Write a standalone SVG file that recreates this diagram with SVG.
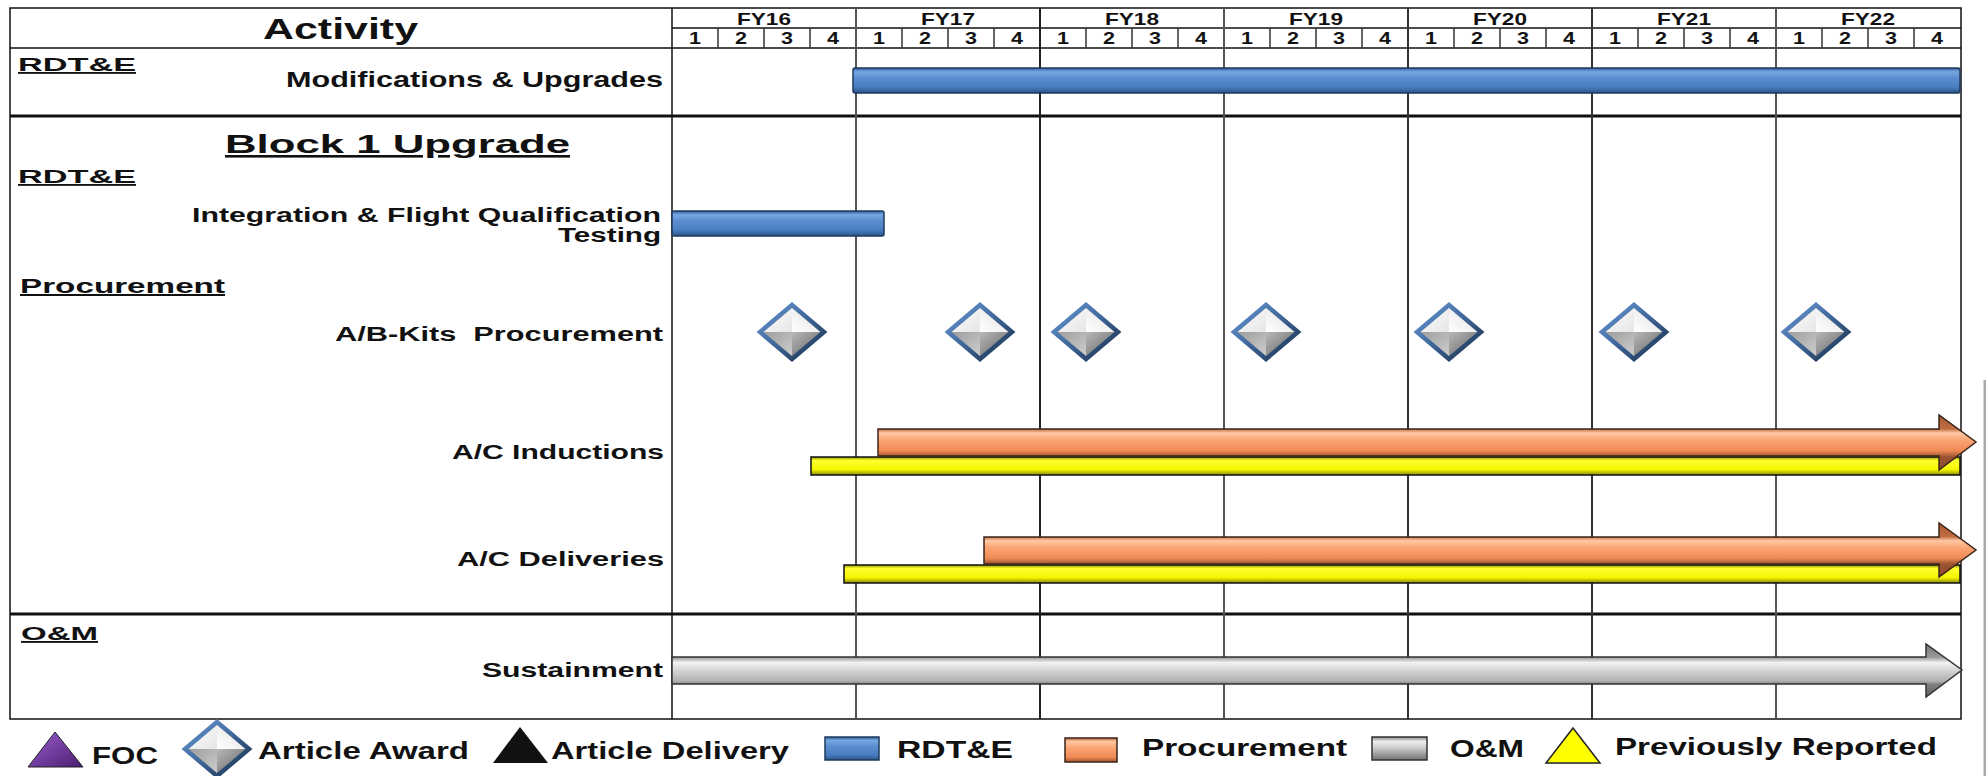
<svg xmlns="http://www.w3.org/2000/svg" xmlns:xlink="http://www.w3.org/1999/xlink" width="1986" height="776" viewBox="0 0 1986 776">
<style>
text{font-family:"Liberation Sans",Arial,sans-serif;font-weight:bold;fill:#111;white-space:pre}
.hd{text-decoration:underline}
.fy{font-size:16.5px}
.q{font-size:16.5px}
.lbl{font-size:20px}
.lg{font-size:23px}
.grid{stroke:#111;stroke-width:1.5;fill:none}
.yr{stroke:#555;stroke-width:2}
.qt{stroke:#333;stroke-width:1.5}
.thick{stroke:#111;stroke-width:3}
.blue{fill:url(#blueG);stroke:#1e3a5c;stroke-width:1.5}
.orange{fill:url(#orangeG);stroke:#3a2418;stroke-width:1.5}
.orangeA{fill:url(#orangeA);stroke:#3a2418;stroke-width:1.5}
.yellow{fill:url(#yellowG);stroke:#111;stroke-width:1.5}
.grayA{fill:url(#grayA);stroke:#333;stroke-width:1.5}
.gray{fill:url(#grayG);stroke:#333;stroke-width:1.5}
</style>
<defs>
<linearGradient id="blueG" x1="0" y1="0" x2="0" y2="1">
<stop offset="0" stop-color="#2f5d96"/><stop offset="0.15" stop-color="#77a6e2"/><stop offset="0.4" stop-color="#5b8ed0"/><stop offset="0.75" stop-color="#4a7fc2"/><stop offset="1" stop-color="#2c5488"/>
</linearGradient>
<linearGradient id="orangeG" x1="0" y1="0" x2="0" y2="1">
<stop offset="0" stop-color="#b8653c"/><stop offset="0.15" stop-color="#ffc9a3"/><stop offset="0.4" stop-color="#fba574"/><stop offset="0.8" stop-color="#f08a55"/><stop offset="1" stop-color="#9c5432"/>
</linearGradient>
<linearGradient id="orangeA" x1="0" y1="0" x2="0" y2="1">
<stop offset="0" stop-color="#a85a34"/><stop offset="0.25" stop-color="#c06c42"/><stop offset="0.33" stop-color="#ffc9a3"/><stop offset="0.45" stop-color="#fba574"/><stop offset="0.65" stop-color="#f08a55"/><stop offset="0.76" stop-color="#9c5432"/><stop offset="1" stop-color="#8a4a2c"/>
</linearGradient>
<linearGradient id="yellowG" x1="0" y1="0" x2="0" y2="1">
<stop offset="0" stop-color="#9a9a00"/><stop offset="0.2" stop-color="#ffff30"/><stop offset="0.7" stop-color="#f5f500"/><stop offset="1" stop-color="#8a8a00"/>
</linearGradient>
<linearGradient id="grayA" x1="0" y1="0" x2="0" y2="1">
<stop offset="0" stop-color="#777"/><stop offset="0.25" stop-color="#999"/><stop offset="0.35" stop-color="#f2f2f2"/><stop offset="0.5" stop-color="#d4d4d4"/><stop offset="0.7" stop-color="#b0b0b0"/><stop offset="0.76" stop-color="#808080"/><stop offset="1" stop-color="#606060"/>
</linearGradient>
<linearGradient id="grayG" x1="0" y1="0" x2="0" y2="1">
<stop offset="0" stop-color="#888"/><stop offset="0.2" stop-color="#eee"/><stop offset="0.5" stop-color="#c8c8c8"/><stop offset="1" stop-color="#707070"/>
</linearGradient>
<linearGradient id="dBorder" x1="0" y1="0" x2="1" y2="1">
<stop offset="0" stop-color="#6a9ad8"/><stop offset="0.5" stop-color="#3d6597"/><stop offset="1" stop-color="#1a2f4a"/>
</linearGradient>
<linearGradient id="fTL" x1="0" y1="0" x2="1" y2="1"><stop offset="0" stop-color="#ffffff"/><stop offset="1" stop-color="#e6e6e6"/></linearGradient>
<linearGradient id="fTR" x1="1" y1="0" x2="0" y2="1"><stop offset="0" stop-color="#dcdcdc"/><stop offset="1" stop-color="#ffffff"/></linearGradient>
<linearGradient id="fBL" x1="0" y1="0" x2="1" y2="1"><stop offset="0" stop-color="#9a9a9a"/><stop offset="1" stop-color="#d0d0d0"/></linearGradient>
<linearGradient id="fBR" x1="1" y1="1" x2="0" y2="0"><stop offset="0" stop-color="#5a5a5a"/><stop offset="1" stop-color="#b8b8b8"/></linearGradient>
<linearGradient id="purpleG" x1="0" y1="0" x2="1" y2="1"><stop offset="0" stop-color="#9a5fd0"/><stop offset="1" stop-color="#4b1d70"/></linearGradient>
<g id="diamond">
<polygon points="0,-27 -32,0 0,0" fill="url(#fTL)"/>
<polygon points="0,-27 32,0 0,0" fill="url(#fTR)"/>
<polygon points="-32,0 0,27 0,0" fill="url(#fBL)"/>
<polygon points="32,0 0,27 0,0" fill="url(#fBR)"/>
<polygon points="0,-27 32,0 0,27 -32,0" fill="none" stroke="url(#dBorder)" stroke-width="4.5" stroke-linejoin="miter"/>
</g>
</defs>
<rect width="1986" height="776" fill="#fff"/>
<line x1="1985" y1="380" x2="1985" y2="776" stroke="#aaa" stroke-width="3"/>

<g id="grid">
<rect x="10" y="8" width="1951" height="711" class="grid"/>
<line x1="10" y1="48" x2="1961" y2="48" class="grid"/>
<line x1="672" y1="28" x2="1961" y2="28" class="grid"/>
<line x1="672" y1="8" x2="672" y2="719" class="grid"/>
<line x1="10" y1="116" x2="1961" y2="116" class="thick"/>
<line x1="10" y1="614" x2="1961" y2="614" class="thick"/>
<g class="yr">
<line x1="856" y1="8" x2="856" y2="719"/>
<line x1="1040" y1="8" x2="1040" y2="719" stroke="#222"/>
<line x1="1224" y1="8" x2="1224" y2="719"/>
<line x1="1408" y1="8" x2="1408" y2="719" stroke="#333"/>
<line x1="1592" y1="8" x2="1592" y2="719" stroke="#333"/>
<line x1="1776" y1="8" x2="1776" y2="719"/>
</g>
<g class="qt">
<line x1="718" y1="28" x2="718" y2="48"/><line x1="764" y1="28" x2="764" y2="48"/><line x1="810" y1="28" x2="810" y2="48"/>
<line x1="902" y1="28" x2="902" y2="48"/><line x1="948" y1="28" x2="948" y2="48"/><line x1="994" y1="28" x2="994" y2="48"/>
<line x1="1086" y1="28" x2="1086" y2="48"/><line x1="1132" y1="28" x2="1132" y2="48"/><line x1="1178" y1="28" x2="1178" y2="48"/>
<line x1="1270" y1="28" x2="1270" y2="48"/><line x1="1316" y1="28" x2="1316" y2="48"/><line x1="1362" y1="28" x2="1362" y2="48"/>
<line x1="1454" y1="28" x2="1454" y2="48"/><line x1="1500" y1="28" x2="1500" y2="48"/><line x1="1546" y1="28" x2="1546" y2="48"/>
<line x1="1638" y1="28" x2="1638" y2="48"/><line x1="1684" y1="28" x2="1684" y2="48"/><line x1="1730" y1="28" x2="1730" y2="48"/>
<line x1="1822" y1="28" x2="1822" y2="48"/><line x1="1868" y1="28" x2="1868" y2="48"/><line x1="1914" y1="28" x2="1914" y2="48"/>
</g>
</g>

<g id="header">
<text x="263" y="39" font-size="29" textLength="155" lengthAdjust="spacingAndGlyphs">Activity</text>
<g class="fy">
<text x="737" y="25" textLength="54" lengthAdjust="spacingAndGlyphs">FY16</text>
<text x="921" y="25" textLength="54" lengthAdjust="spacingAndGlyphs">FY17</text>
<text x="1105" y="25" textLength="54" lengthAdjust="spacingAndGlyphs">FY18</text>
<text x="1289" y="25" textLength="54" lengthAdjust="spacingAndGlyphs">FY19</text>
<text x="1473" y="25" textLength="54" lengthAdjust="spacingAndGlyphs">FY20</text>
<text x="1657" y="25" textLength="54" lengthAdjust="spacingAndGlyphs">FY21</text>
<text x="1841" y="25" textLength="54" lengthAdjust="spacingAndGlyphs">FY22</text>
</g>
<g class="q">
<text x="689" y="44" textLength="12" lengthAdjust="spacingAndGlyphs">1</text><text x="735" y="44" textLength="12" lengthAdjust="spacingAndGlyphs">2</text><text x="781" y="44" textLength="12" lengthAdjust="spacingAndGlyphs">3</text><text x="827" y="44" textLength="12" lengthAdjust="spacingAndGlyphs">4</text>
<text x="873" y="44" textLength="12" lengthAdjust="spacingAndGlyphs">1</text><text x="919" y="44" textLength="12" lengthAdjust="spacingAndGlyphs">2</text><text x="965" y="44" textLength="12" lengthAdjust="spacingAndGlyphs">3</text><text x="1011" y="44" textLength="12" lengthAdjust="spacingAndGlyphs">4</text>
<text x="1057" y="44" textLength="12" lengthAdjust="spacingAndGlyphs">1</text><text x="1103" y="44" textLength="12" lengthAdjust="spacingAndGlyphs">2</text><text x="1149" y="44" textLength="12" lengthAdjust="spacingAndGlyphs">3</text><text x="1195" y="44" textLength="12" lengthAdjust="spacingAndGlyphs">4</text>
<text x="1241" y="44" textLength="12" lengthAdjust="spacingAndGlyphs">1</text><text x="1287" y="44" textLength="12" lengthAdjust="spacingAndGlyphs">2</text><text x="1333" y="44" textLength="12" lengthAdjust="spacingAndGlyphs">3</text><text x="1379" y="44" textLength="12" lengthAdjust="spacingAndGlyphs">4</text>
<text x="1425" y="44" textLength="12" lengthAdjust="spacingAndGlyphs">1</text><text x="1471" y="44" textLength="12" lengthAdjust="spacingAndGlyphs">2</text><text x="1517" y="44" textLength="12" lengthAdjust="spacingAndGlyphs">3</text><text x="1563" y="44" textLength="12" lengthAdjust="spacingAndGlyphs">4</text>
<text x="1609" y="44" textLength="12" lengthAdjust="spacingAndGlyphs">1</text><text x="1655" y="44" textLength="12" lengthAdjust="spacingAndGlyphs">2</text><text x="1701" y="44" textLength="12" lengthAdjust="spacingAndGlyphs">3</text><text x="1747" y="44" textLength="12" lengthAdjust="spacingAndGlyphs">4</text>
<text x="1793" y="44" textLength="12" lengthAdjust="spacingAndGlyphs">1</text><text x="1839" y="44" textLength="12" lengthAdjust="spacingAndGlyphs">2</text><text x="1885" y="44" textLength="12" lengthAdjust="spacingAndGlyphs">3</text><text x="1931" y="44" textLength="12" lengthAdjust="spacingAndGlyphs">4</text>
</g>
</g>

<g id="labels">
<text class="hd" x="18" y="71" font-size="18.5" textLength="118" lengthAdjust="spacingAndGlyphs">RDT&amp;E</text>
<text x="286" y="87" font-size="22" textLength="377" lengthAdjust="spacingAndGlyphs">Modifications &amp; Upgrades</text>
<text class="hd" x="225" y="153" font-size="26" textLength="345" lengthAdjust="spacingAndGlyphs">Block 1 Upgrade</text>
<text class="hd" x="18" y="183" font-size="18.5" textLength="118" lengthAdjust="spacingAndGlyphs">RDT&amp;E</text>
<text x="192" y="222" class="lbl" textLength="469" lengthAdjust="spacingAndGlyphs">Integration &amp; Flight Qualification</text>
<text x="558" y="242" class="lbl" textLength="103" lengthAdjust="spacingAndGlyphs">Testing</text>
<text class="hd" x="20" y="293" font-size="20" textLength="205" lengthAdjust="spacingAndGlyphs">Procurement</text>
<text x="335" y="341" class="lbl" textLength="328" lengthAdjust="spacingAndGlyphs">A/B-Kits  Procurement</text>
<text x="452" y="459" class="lbl" textLength="212" lengthAdjust="spacingAndGlyphs">A/C Inductions</text>
<text x="457" y="566" class="lbl" textLength="207" lengthAdjust="spacingAndGlyphs">A/C Deliveries</text>
<text class="hd" x="21" y="640" font-size="18.5" textLength="77" lengthAdjust="spacingAndGlyphs">O&amp;M</text>
<text x="482" y="677" class="lbl" textLength="181" lengthAdjust="spacingAndGlyphs">Sustainment</text>
</g>

<g id="bar-modifications"><rect x="853" y="68" width="1107" height="25" rx="2" class="blue"/></g>
<g id="bar-integration"><rect x="672" y="211" width="212" height="25" rx="2" class="blue"/></g>
<g id="milestones-abkits">
<use xlink:href="#diamond" href="#diamond" transform="translate(792,332)"/>
<use xlink:href="#diamond" href="#diamond" transform="translate(980,332)"/>
<use xlink:href="#diamond" href="#diamond" transform="translate(1086,332)"/>
<use xlink:href="#diamond" href="#diamond" transform="translate(1266,332)"/>
<use xlink:href="#diamond" href="#diamond" transform="translate(1449,332)"/>
<use xlink:href="#diamond" href="#diamond" transform="translate(1634,332)"/>
<use xlink:href="#diamond" href="#diamond" transform="translate(1816,332)"/>
</g>
<g id="bar-inductions">
<rect x="811" y="457" width="1149" height="18" class="yellow"/>
<polygon points="878,429 1939,429 1939,415 1976,442 1939,470 1939,456 878,456" class="orangeA"/>
</g>
<g id="bar-deliveries">
<rect x="844" y="565" width="1116" height="18" class="yellow"/>
<polygon points="984,537 1939,537 1939,523 1976,550 1939,577 1939,564 984,564" class="orangeA"/>
</g>
<g id="bar-sustainment">
<polygon points="672,657 1926,657 1926,644 1962,670 1926,697 1926,684 672,684" class="grayA"/>
</g>

<g id="legend">
<polygon points="55,732 28,767 83,767" fill="url(#purpleG)" stroke="#222" stroke-width="1"/>
<text class="lg" x="92" y="764" textLength="66" lengthAdjust="spacingAndGlyphs">FOC</text>
<use xlink:href="#diamond" href="#diamond" transform="translate(217,749)"/>
<text class="lg" x="258" y="759" textLength="211" lengthAdjust="spacingAndGlyphs">Article Award</text>
<polygon points="520,727 493,763 548,763" fill="#111"/>
<text class="lg" x="551" y="759" textLength="238" lengthAdjust="spacingAndGlyphs">Article Delivery</text>
<rect x="825" y="737" width="54" height="23" class="blue" stroke-width="2"/>
<text class="lg" x="897" y="758" textLength="116" lengthAdjust="spacingAndGlyphs">RDT&amp;E</text>
<rect x="1065" y="738" width="52" height="24" class="orange" stroke-width="2"/>
<text class="lg" x="1142" y="756" textLength="205" lengthAdjust="spacingAndGlyphs">Procurement</text>
<rect x="1372" y="737" width="55" height="23" class="gray" stroke-width="2"/>
<text class="lg" x="1450" y="757" textLength="74" lengthAdjust="spacingAndGlyphs">O&amp;M</text>
<polygon points="1573,728 1546,763 1600,763" fill="#ffff00" stroke="#222" stroke-width="1.5"/>
<text class="lg" x="1615" y="755" textLength="322" lengthAdjust="spacingAndGlyphs">Previously Reported</text>
</g>
</svg>
